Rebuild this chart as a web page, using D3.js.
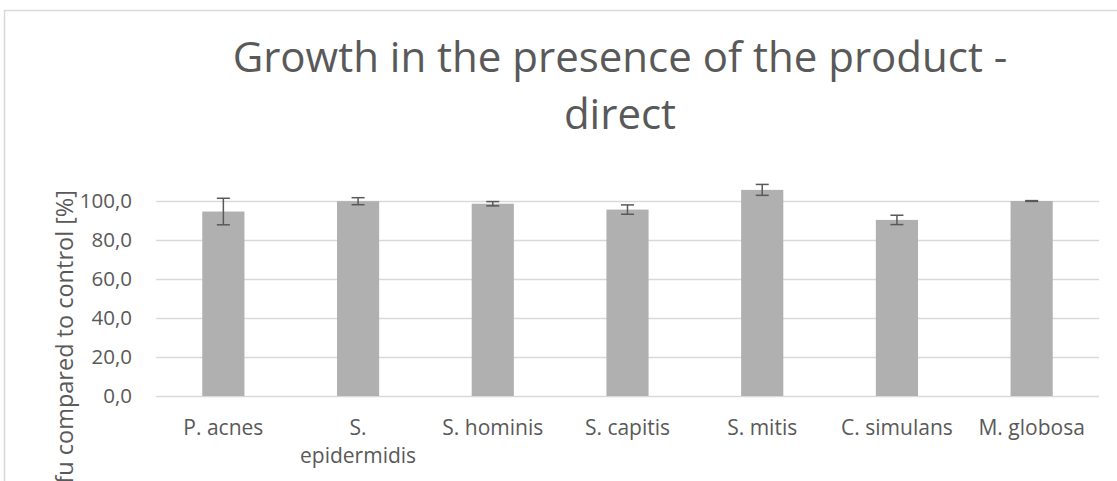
<!DOCTYPE html>
<html>
<head>
<meta charset="utf-8">
<script src="https://cdn.jsdelivr.net/npm/d3@7"></script>
<style>
  html, body { margin: 0; padding: 0; background: #fff; }
  svg { display: block; }
  text { font-family: "Open Sans", "Noto Sans", sans-serif; fill: #595959; }
</style>
</head>
<body>
<svg id="chart" width="1117" height="481"></svg>
<script>
const categories = [["P. acnes"], ["S.", "epidermidis"], ["S. hominis"], ["S. capitis"], ["S. mitis"], ["C. simulans"], ["M. globosa"]];
const values = [94.6, 99.9, 98.6, 95.6, 105.7, 90.3, 100.0];
const errors = [6.8, 1.8, 1.1, 2.4, 2.8, 2.4, 0.2];
const yTicks = [0, 20, 40, 60, 80, 100];
const titleLines = ["Growth in the presence of the product -", "direct"];
const yTitle = "cfu compared to control [%]";

const svg = d3.select("#chart");
const W = 1117, H = 481;
const plot = { left: 156, right: 1099, top: 201, bottom: 396 };

// chart border (cropped)
svg.append("path")
  .attr("d", `M4.5,${H + 5} V10.5 H${W + 5}`)
  .attr("fill", "none").attr("stroke", "#d9d9d9").attr("stroke-width", 1.5);

const labels = categories.map(c => c.join(" "));
const x = d3.scaleBand().domain(labels).range([plot.left, plot.right]).paddingInner(0.687).paddingOuter(0.3435);
const y = d3.scaleLinear().domain([0, 100]).range([plot.bottom, plot.top]);

// gridlines
svg.append("g").selectAll("line").data(yTicks).join("line")
  .attr("x1", plot.left).attr("x2", plot.right)
  .attr("y1", d => Math.round(y(d)) + 0.5).attr("y2", d => Math.round(y(d)) + 0.5)
  .attr("stroke", "#d9d9d9").attr("stroke-width", 1.5);

// y tick labels
svg.append("g").selectAll("text").data(yTicks).join("text")
  .attr("x", 132).attr("y", d => y(d))
  .attr("dy", "0.35em")
  .attr("text-anchor", "end")
  .attr("font-size", 20.5)
  .text(d => d.toFixed(1).replace(".", ","));

// bars
svg.append("g").selectAll("rect").data(values).join("rect")
  .attr("x", (d, i) => x(labels[i]))
  .attr("width", x.bandwidth())
  .attr("y", d => y(d))
  .attr("height", d => y(0) - y(d))
  .attr("fill", "#b0b0b0");

// error bars
const eb = svg.append("g").attr("stroke", "#595959").attr("stroke-width", 1.5).attr("fill", "none");
values.forEach((v, i) => {
  const cx = x(labels[i]) + x.bandwidth() / 2;
  const hi = y(v + errors[i]), lo = y(v - errors[i]);
  eb.append("line").attr("x1", cx).attr("x2", cx).attr("y1", hi).attr("y2", lo);
  eb.append("line").attr("x1", cx - 6.5).attr("x2", cx + 6.5).attr("y1", hi).attr("y2", hi);
  eb.append("line").attr("x1", cx - 6.5).attr("x2", cx + 6.5).attr("y1", lo).attr("y2", lo);
});

// x labels
const xl = svg.append("g").selectAll("text").data(categories).join("text")
  .attr("text-anchor", "middle")
  .attr("font-size", 21);
xl.each(function(lines, i) {
  const t = d3.select(this);
  const cx = x(labels[i]) + x.bandwidth() / 2;
  lines.forEach((ln, j) => {
    t.append("tspan").attr("x", cx).attr("y", 435 + j * 28).text(ln);
  });
});

// y axis title
svg.append("text")
  .attr("transform", "translate(73,190) rotate(-90)")
  .attr("text-anchor", "end")
  .attr("font-size", 23.5)
  .text(yTitle);

// title
svg.append("g").selectAll("text").data(titleLines).join("text")
  .attr("x", 620).attr("y", (d, i) => 72 + i * 57)
  .attr("text-anchor", "middle")
  .attr("font-size", 42)
  .text(d => d);
</script>
</body>
</html>
